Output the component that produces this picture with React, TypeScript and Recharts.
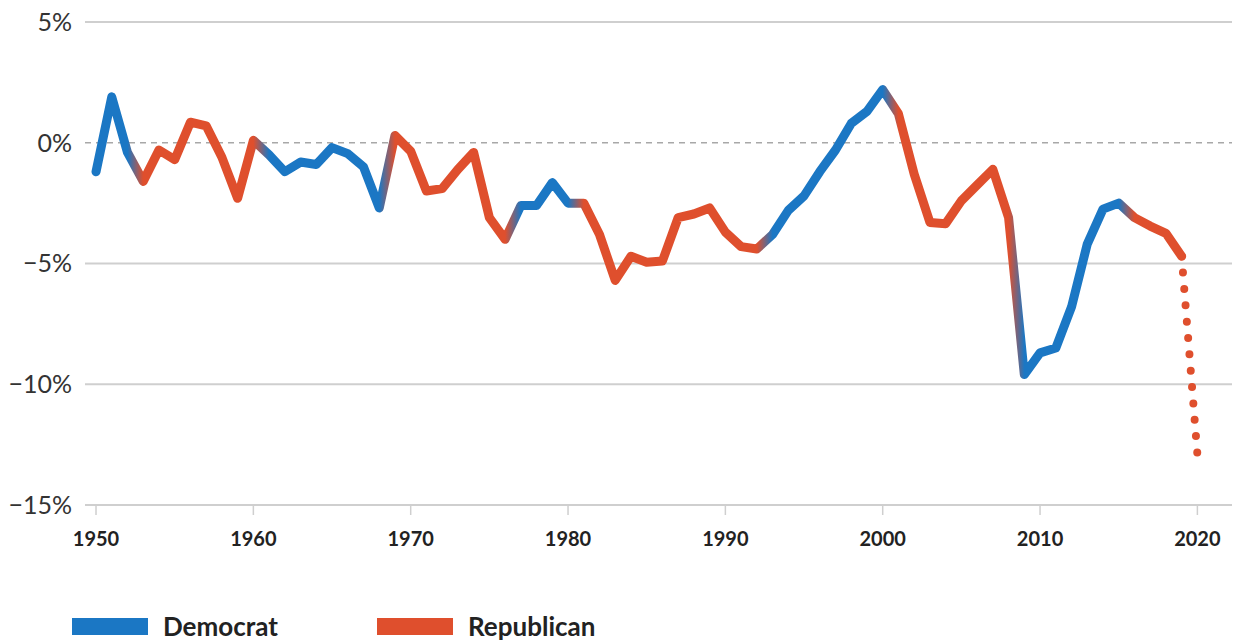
import { LineChart, Line, XAxis, YAxis, ReferenceLine } from "recharts";

const years = [
  1950, 1951, 1952, 1953, 1954, 1955, 1956, 1957, 1958, 1959,
  1960, 1961, 1962, 1963, 1964, 1965, 1966, 1967, 1968, 1969,
  1970, 1971, 1972, 1973, 1974, 1975, 1976, 1977, 1978, 1979,
  1980, 1981, 1982, 1983, 1984, 1985, 1986, 1987, 1988, 1989,
  1990, 1991, 1992, 1993, 1994, 1995, 1996, 1997, 1998, 1999,
  2000, 2001, 2002, 2003, 2004, 2005, 2006, 2007, 2008, 2009,
  2010, 2011, 2012, 2013, 2014, 2015, 2016, 2017, 2018, 2019,
];

// surplus / deficit, % of GDP
const deficit = [
  -1.2, 1.9, -0.4, -1.6, -0.3, -0.7, 0.85, 0.7, -0.6, -2.3,
  0.1, -0.5, -1.2, -0.8, -0.9, -0.2, -0.45, -1.0, -2.7, 0.3,
  -0.35, -2.0, -1.9, -1.1, -0.4, -3.1, -4.0, -2.6, -2.6, -1.65,
  -2.5, -2.5, -3.8, -5.7, -4.7, -4.95, -4.9, -3.1, -2.95, -2.7,
  -3.7, -4.3, -4.4, -3.8, -2.8, -2.2, -1.2, -0.3, 0.8, 1.3,
  2.2, 1.2, -1.3, -3.3, -3.35, -2.4, -1.75, -1.1, -3.1, -9.6,
  -8.7, -8.5, -6.8, -4.2, -2.75, -2.5, -3.1, -3.45, -3.75, -4.7,
];

const party = [
  "D", "D", "D", "R", "R", "R", "R", "R", "R", "R",
  "R", "D", "D", "D", "D", "D", "D", "D", "D", "R",
  "R", "R", "R", "R", "R", "R", "R", "D", "D", "D",
  "D", "R", "R", "R", "R", "R", "R", "R", "R", "R",
  "R", "R", "R", "D", "D", "D", "D", "D", "D", "D",
  "D", "R", "R", "R", "R", "R", "R", "R", "R", "D",
  "D", "D", "D", "D", "D", "D", "R", "R", "R", "R",
];

const projectionYears = [2019, 2020];
const projection = [-4.7, -12.9];

const xTicks = [1950, 1960, 1970, 1980, 1990, 2000, 2010, 2020];
const yTicks = [5, 0, -5, -10, -15];
const solidGrid = [5, -5, -10];

const DEM = "#1b77c4";
const REP = "#df4f2d";
const FONT = "Lato, 'Open Sans', sans-serif";

type Row = { year: number; value?: number; proj?: number };

const data: Row[] = years.map((year, i) => ({ year, value: deficit[i] }));
projectionYears.forEach((year, i) => {
  const row = data.find((d) => d.year === year);
  if (row) row.proj = projection[i];
  else data.push({ year, proj: projection[i] });
});

const firstYear = years[0];
const lastYear = years[years.length - 1];
const stops = years.map((year, i) => ({
  offset: ((year - firstYear) / (lastYear - firstYear)) * 100,
  color: party[i] === "D" ? DEM : REP,
}));

const fmtPct = (v: number) => (v < 0 ? `\u2212${Math.abs(v)}%` : `${v}%`);

function LegendItem({ color, label, left }: { color: string; label: string; left: number }) {
  return (
    <div style={{ position: "absolute", left, top: 612, display: "flex", alignItems: "center" }}>
      <div style={{ width: 76, height: 17, background: color }} />
      <span
        style={{
          marginLeft: 15,
          fontFamily: FONT,
          fontWeight: 700,
          fontSize: 26,
          color: "#222",
          lineHeight: "29px",
        }}
      >
        {label}
      </span>
    </div>
  );
}

export default function App() {
  return (
    <div style={{ position: "absolute", left: 0, top: 0, width: 1234, height: 641, background: "#fff" }}>
      <LineChart width={1234} height={560} data={data} margin={{ top: 22, right: 2, bottom: 0, left: 0 }}>
        <defs>
          <linearGradient id="partyGradient" x1="0" y1="0" x2="1" y2="0">
            {stops.map((s, i) => (
              <stop key={i} offset={`${s.offset}%`} stopColor={s.color} />
            ))}
          </linearGradient>
        </defs>
        <XAxis
          dataKey="year"
          type="number"
          domain={[1949.3, 2022.2]}
          ticks={xTicks}
          height={55}
          tickSize={10}
          tickMargin={17}
          axisLine={{ stroke: "#cfcfcf", strokeWidth: 2 }}
          tickLine={{ stroke: "#cfcfcf", strokeWidth: 1.5 }}
          tick={{ fontSize: 20, fontWeight: 700, fill: "#222", fontFamily: FONT }}
        />
        <YAxis
          domain={[-15, 5]}
          ticks={yTicks}
          width={85}
          axisLine={false}
          tickLine={false}
          tickMargin={7}
          tickFormatter={fmtPct}
          tick={{ fontSize: 25, fill: "#333", fontFamily: FONT }}
        />
        {solidGrid.map((v) => (
          <ReferenceLine key={v} y={v} stroke="#cfcfcf" strokeWidth={2} />
        ))}
        <ReferenceLine y={0} stroke="#a8a8a8" strokeWidth={1.5} strokeDasharray="6 5" />
        <Line
          dataKey="proj"
          stroke={REP}
          strokeWidth={8}
          strokeLinecap="round"
          strokeDasharray="0 16.4"
          dot={false}
          activeDot={false}
          isAnimationActive={false}
        />
        <Line
          dataKey="value"
          type="linear"
          stroke="url(#partyGradient)"
          strokeWidth={9}
          strokeLinejoin="round"
          strokeLinecap="round"
          dot={false}
          activeDot={false}
          isAnimationActive={false}
        />
      </LineChart>
      <LegendItem color={DEM} label="Democrat" left={72} />
      <LegendItem color={REP} label="Republican" left={377} />
    </div>
  );
}
